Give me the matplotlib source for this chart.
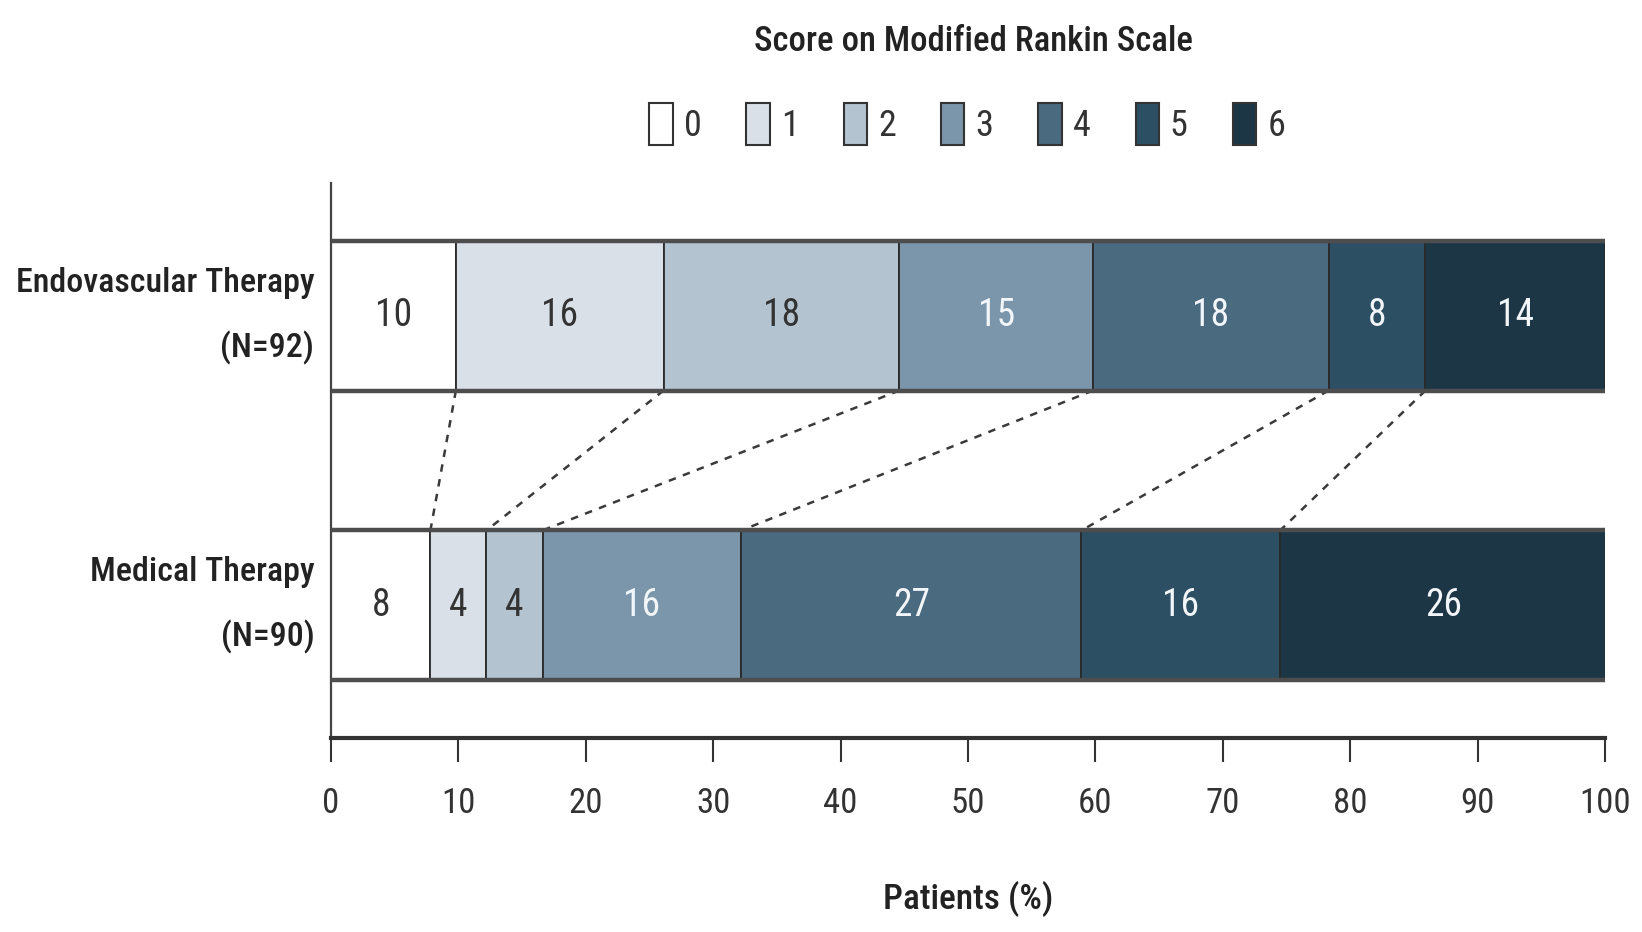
import matplotlib
matplotlib.use("Agg")
import matplotlib.pyplot as plt
from matplotlib.patches import Patch
import numpy as np

plt.rcParams['font.family'] = ['Roboto Condensed', 'DejaVu Sans']

# ---- data ----
groups = ["Medical Therapy\n(N=90)", "Endovascular Therapy\n(N=92)"]
scores = ["0", "1", "2", "3", "4", "5", "6"]
endo_pct = [9.8, 16.3, 18.5, 15.2, 18.5, 7.6, 14.1]
med_pct = [7.8, 4.4, 4.4, 15.6, 26.7, 15.6, 25.6]
endo_labels = ["10", "16", "18", "15", "18", "8", "14"]
med_labels = ["8", "4", "4", "16", "27", "16", "26"]
colors = ["#ffffff", "#d9e0e8", "#b3c3d0", "#7b96aa", "#4a6a80", "#2d4f63", "#1c3646"]
text_colors = ["#333333", "#333333", "#333333", "#f2f6f8", "#f2f6f8", "#f2f6f8", "#f2f6f8"]
xticks = [0, 10, 20, 30, 40, 50, 60, 70, 80, 90, 100]

fig = plt.figure(figsize=(16.42, 9.32), dpi=100)
ax = fig.add_axes([0.2016, 0.2082, 0.7759, 0.5954])

bar_h = 0.516
rows = [(0, med_pct, med_labels), (1, endo_pct, endo_labels)]
for y, vals, labs in rows:
    left = 0.0
    for i, (v, lab) in enumerate(zip(vals, labs)):
        ax.barh(y, v, left=left, height=bar_h, color=colors[i],
                edgecolor="#2a2a2a", linewidth=1.3, zorder=2)
        ax.text(left + v / 2, y, lab, ha="center", va="center",
                fontsize=27, color=text_colors[i], zorder=4)
        left += v
    # thick top / bottom lines
    ax.plot([0, 100], [y + bar_h / 2, y + bar_h / 2], color="#4d4d4d", lw=3.2,
            zorder=3, solid_capstyle="butt")
    ax.plot([0, 100], [y - bar_h / 2, y - bar_h / 2], color="#4d4d4d", lw=3.2,
            zorder=3, solid_capstyle="butt")

# dashed connectors between boundaries
cum_endo = np.cumsum(endo_pct)[:-1]
cum_med = np.cumsum(med_pct)[:-1]
for xe, xm in zip(cum_endo, cum_med):
    ax.plot([xe, xm], [1 - bar_h / 2, 0 + bar_h / 2], color="#3a3a3a",
            lw=1.8, ls=(0, (3, 3)), zorder=1)

ax.set_xlim(0, 100)
ax.set_ylim(-0.46, 1.46)
ax.set_xticks(xticks)
ax.set_xticklabels([str(t) for t in xticks], fontsize=25, color="#333333")
ax.set_yticks([0, 1])
ax.set_yticklabels(groups, fontsize=24.5, color="#222222", linespacing=2.2,
                   fontweight="medium")
for lbl in ax.get_yticklabels():
    lbl.set_va("center")
ax.tick_params(axis="y", length=0, pad=12)
ax.tick_params(axis="x", length=17, width=1.5, color="#333333", pad=18, direction="out")

for s in ["top", "right"]:
    ax.spines[s].set_visible(False)
ax.spines["left"].set_color("#444444")
ax.spines["left"].set_linewidth(1.6)
ax.spines["bottom"].set_color("#333333")
ax.spines["bottom"].set_linewidth(3)

ax.set_xlabel("Patients (%)", fontsize=25.5, color="#222222", labelpad=44,
              fontweight="medium")

fig.text(0.593, 0.955, "Score on Modified Rankin Scale", ha="center", va="center",
         fontsize=25, fontweight="medium", color="#222222")

handles = [Patch(facecolor=c, edgecolor="#333333", linewidth=1.5) for c in colors]
leg = fig.legend(handles, scores, loc="center", bbox_to_anchor=(0.589, 0.867),
                 ncol=7, frameon=False, fontsize=26, handlelength=0.65,
                 handleheight=1.4, handletextpad=0.3, columnspacing=1.25)
for t in leg.get_texts():
    t.set_color("#333333")

fig.savefig("out.png", dpi=100)
